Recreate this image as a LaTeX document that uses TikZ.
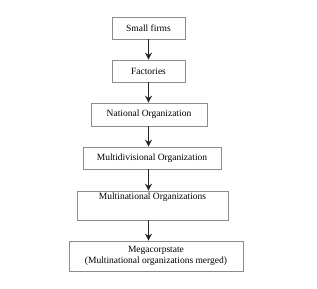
\documentclass[tikz,border=0pt]{standalone}
\usepackage{fontspec}
\setmainfont{Liberation Serif}
\usetikzlibrary{arrows.meta}
\begin{document}
\begin{tikzpicture}[x=1pt,y=1pt,
  box/.style={draw=black!45, line width=0.6pt, fill=white, align=center, inner sep=0pt, font=\fontsize{9.5}{11}\selectfont},
  arr/.style={-{Stealth[length=7pt,width=7pt]}, line width=1.5pt, draw=black!85}]
\useasboundingbox (0,0) rectangle (317,289);
\node[box, minimum width=73pt, minimum height=22pt] (a) at (148.5,261) {Small firms};
\node[box, minimum width=73pt, minimum height=22pt] (b) at (148.5,218) {Factories};
\node[box, minimum width=116pt, minimum height=23pt] (c) at (149,174.5) {National Organization};
\node[box, minimum width=138pt, minimum height=22pt] (d) at (152,131) {Multidivisional Organization};
\node[box, minimum width=151pt, minimum height=29pt] (e) at (152.5,83.5) {Multinational Organizations\\[8pt]\mbox{}};
\node[box, minimum width=174pt, minimum height=30pt] (f) at (156,33) {Megacorpstate\\(Multinational organizations merged)};
\draw[arr] (a.south -| 148.5,0) -- (b.north -| 148.5,0);
\draw[arr] (b.south -| 148.5,0) -- (c.north -| 148.5,0);
\draw[arr] (c.south -| 148.5,0) -- (d.north -| 148.5,0);
\draw[arr] (d.south -| 148.5,0) -- (e.north -| 148.5,0);
\draw[arr] (e.south -| 148.5,0) -- (f.north -| 148.5,0);
\end{tikzpicture}
\end{document}
